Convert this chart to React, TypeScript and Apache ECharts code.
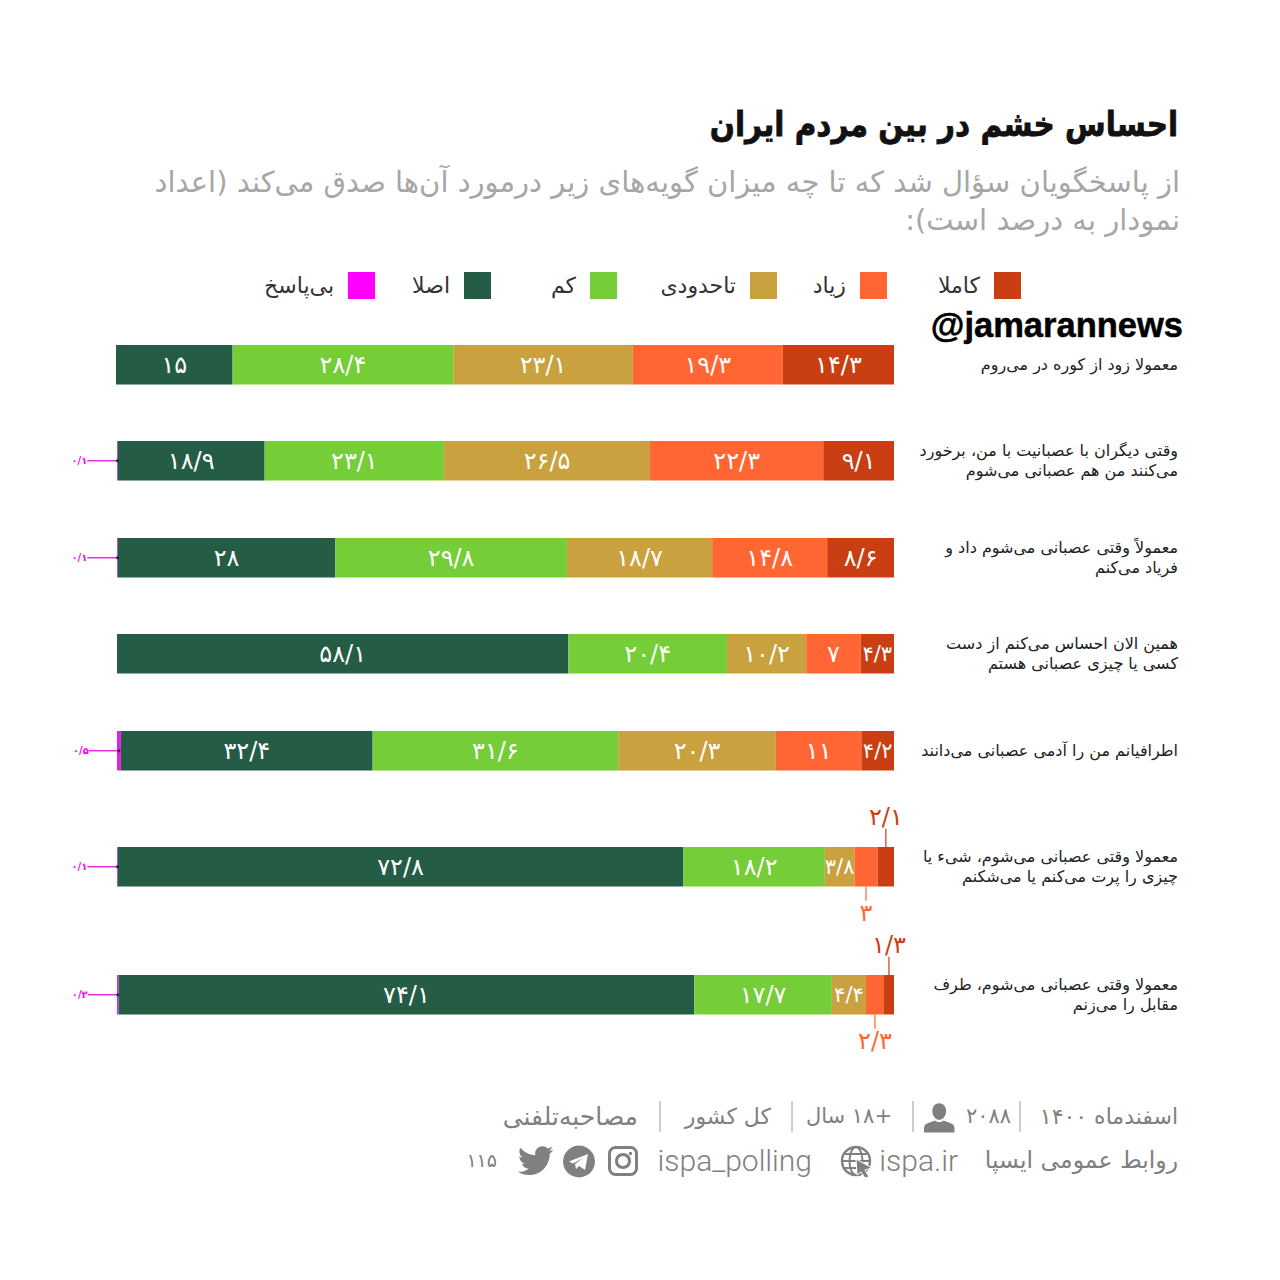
import React, { useEffect, useRef } from "react";
import * as echarts from "echarts";

const FA = "'DejaVu Sans', sans-serif";
const RLM = "\u200F";
const rtl = (s: string) => s.split("\n").map((l) => RLM + l + RLM).join("\n");

const categories = [
  "معمولا زود از کوره در می‌روم",
  "وقتی دیگران با عصبانیت با من، برخورد\nمی‌کنند من هم عصبانی می‌شوم",
  "معمولاً وقتی عصبانی می‌شوم داد و\nفریاد می‌کنم",
  "همین الان احساس می‌کنم از دست\nکسی یا چیزی عصبانی هستم",
  "اطرافیانم من را آدمی عصبانی می‌دانند",
  "معمولا وقتی عصبانی می‌شوم، شیء یا\nچیزی را پرت می‌کنم یا می‌شکنم",
  "معمولا وقتی عصبانی می‌شوم، طرف\nمقابل را می‌زنم",
];
const noAnswer = [0, 0.1, 0.1, 0, 0.5, 0.1, 0.2];
const notAtAll = [15, 18.9, 28, 58.1, 32.4, 72.8, 74.1];
const low = [28.4, 23.1, 29.8, 20.4, 31.6, 18.2, 17.7];
const moderate = [23.1, 26.5, 18.7, 10.2, 20.3, 3.8, 4.4];
const high = [19.3, 22.3, 14.8, 7, 11, 3, 2.3];
const full = [14.3, 9.1, 8.6, 4.3, 4.2, 2.1, 1.3];

const seriesDefs = [
  { name: "بی‌پاسخ", values: noAnswer, color: "#e51fe5", legend: "#ff00ff", swatchRight: 905 },
  { name: "اصلا", values: notAtAll, color: "#255c45", legend: "#255c45", swatchRight: 789 },
  { name: "کم", values: low, color: "#75cd37", legend: "#75cd37", swatchRight: 663 },
  { name: "تاحدودی", values: moderate, color: "#c9a13e", legend: "#c9a13e", swatchRight: 503 },
  { name: "زیاد", values: high, color: "#ff6633", legend: "#ff6633", swatchRight: 393 },
  { name: "کاملا", values: full, color: "#c93f13", legend: "#c93f13", swatchRight: 259 },
];

const rowTops = [345, 441, 538, 634, 731, 847, 975];
const rowLefts = [116, 117, 117, 117, 117, 117, 117];
const BAR_H = 39.5;
const BAR_RIGHT = 894;

const toFa = (v: number) =>
  String(v).replace(/\d/g, (d) => "۰۱۲۳۴۵۶۷۸۹"[+d]).replace(".", "/");

// leader-line labels: series name -> row index -> vertical offset
const calloutDy: Record<string, Record<number, number>> = {
  "زیاد": { 5: 46, 6: 46 },
  "کاملا": { 5: -50, 6: -50 },
};

const person = "M12 1c3.2 0 5.4 2.6 5.4 6s-2.2 7-5.4 7-5.4-3.6-5.4-7 2.2-6 5.4-6zM0 24v-3.5c0-2 1-3 3-3.8l5.6-2.2c2 1.6 4.800 1.600 6.800 0l5.600 2.200c2 .8 3 1.800 3 3.800V24z";
const twitter = "M24 4.6c-.9.4-1.850.65-2.850.78 1.030-.62 1.800-1.600 2.150-2.750-.95.55-2 .95-3.130 1.180-.9-.96-2.180-1.560-3.600-1.560-3.170 0-5.500 2.960-4.780 6.040C7.700 8.100 4.070 6.130 1.640 3.160.35 5.370 1 8.260 3.160 9.730c-.8-.03-1.550-.25-2.230-.62-.05 2.280 1.580 4.410 3.950 4.890-.7.190-1.460.230-2.210.08.62 1.950 2.440 3.370 4.600 3.420C5.200 19.110 2.600 19.830 0 19.520c2.180 1.400 4.770 2.210 7.560 2.210 9.050 0 14.170-7.640 13.980-14.500C22.500 6.550 23.330 5.640 24 4.600z";
echarts.graphic.registerShape("personIcon", echarts.graphic.extendPath(person, {}));
echarts.graphic.registerShape("twitterIcon", echarts.graphic.extendPath(twitter, {}));

const GREY = "#808080";

const footerText = (text: string, right: number, y: number, size = 24, font = FA) => ({
  type: "text",
  x: right,
  y,
  style: { text: rtl(text), fill: GREY, font: `${size}px ${font}`, textAlign: "right", textVerticalAlign: "middle" },
});
const footerLtr = (text: string, right: number, y: number, size: number, letter = "Roboto") => ({
  type: "text",
  x: right,
  y,
  style: { text, fill: GREY, font: `300 ${size}px ${letter}`, textAlign: "right", textVerticalAlign: "middle" },
});
const sep = (x: number) => ({
  type: "line",
  shape: { x1: x, y1: 1101, x2: x, y2: 1132 },
  style: { stroke: "#9a9a9a", lineWidth: 1 },
});

export default function App() {
  const ref = useRef<HTMLDivElement>(null);
  useEffect(() => {
    const chart = echarts.init(ref.current!, undefined, { renderer: "svg" });
    const series: any[] = [];
    categories.forEach((cat, r) => {
      seriesDefs.forEach((s) => {
        const v = s.values[r];
        if (!v) return;
        const isPink = s.values === noAnswer;
        const dy = calloutDy[s.name]?.[r];
        const hasCallout = isPink || dy !== undefined;
        series.push({
          type: "bar",
          name: s.name,
          stack: "row" + r,
          xAxisIndex: r,
          yAxisIndex: r,
          barWidth: "100%",
          itemStyle: { color: s.color },
          data: [v],
          label: {
            show: true,
            position: "inside",
            formatter: () => toFa(v),
            fontFamily: FA,
            fontSize: isPink ? 10 : v < 5 && !hasCallout ? 21 : 24,
            fontWeight: isPink ? "bold" : "normal",
            color: isPink ? "#ff00ff" : hasCallout ? s.color : "#ffffff",
          },
          ...(hasCallout
            ? {
                labelLayout: isPink ? { dx: -38 } : { dy },
                labelLine: { show: true, lineStyle: { color: s.color, width: isPink ? 1.4 : 1.2 } },
              }
            : {}),
        });
        if (isPink) {
          series.push({
            type: "scatter",
            name: "نقطه",
            xAxisIndex: r,
            yAxisIndex: r,
            symbolSize: 3,
            z: 5,
            itemStyle: { color: "#111" },
            data: [[v / 2, cat]],
          });
        }
      });
    });
    chart.setOption({
      animation: false,
      backgroundColor: "#ffffff",
      title: [
        { text: rtl("از پاسخگویان سؤال شد که تا چه میزان گویه‌های زیر درمورد آن‌ها صدق می‌کند (اعداد"), right: 100, top: 167, padding: 0, textStyle: { fontFamily: FA, fontWeight: "normal", fontSize: 29, color: "#a6a6a6" } },
        { text: rtl("نمودار به درصد است):"), right: 100, top: 205, padding: 0, textStyle: { fontFamily: FA, fontWeight: "normal", fontSize: 29, color: "#a6a6a6" } },
      ],
      legend: seriesDefs.map((s) => ({
        data: [{ name: s.name, itemStyle: { color: s.legend } }],
        right: s.swatchRight,
        top: 272,
        padding: 0,
        align: "right",
        icon: "rect",
        itemWidth: 27,
        itemHeight: 27,
        selectedMode: false,
        textStyle: { fontFamily: FA, fontSize: 22, color: "#333", padding: [0, 9, 0, 0] },
      })),
      grid: categories.map((_, r) => ({
        left: rowLefts[r],
        width: BAR_RIGHT - rowLefts[r],
        top: rowTops[r],
        height: BAR_H,
      })),
      xAxis: categories.map((_, r) => ({
        type: "value",
        gridIndex: r,
        show: false,
        min: 0,
        max: seriesDefs.reduce((a, s) => a + s.values[r], 0),
      })),
      yAxis: categories.map((cat, r) => ({
        type: "category",
        gridIndex: r,
        position: "right",
        data: [cat],
        axisLine: { show: false },
        axisTick: { show: false },
        axisLabel: {
          interval: 0,
          align: "right",
          margin: 284,
          formatter: (t: string) => rtl(t),
          fontFamily: FA,
          fontSize: 16,
          lineHeight: 20,
          color: "#222",
          padding: cat.includes("\n") ? [0, 0, 4, 0] : 0,
        },
      })),
      series,
      graphic: [
        {
          type: "text",
          x: 1178,
          y: 124,
          scaleX: 0.867,
          style: { text: "احساس خشم در بین مردم ایران", fill: "#111", stroke: "#111", lineWidth: 0.8, font: `bold 34px ${FA}`, textAlign: "right", textVerticalAlign: "middle" },
        },
        {
          type: "text",
          x: 1183,
          y: 325,
          style: { text: "@jamarannews", fill: "#000", stroke: "#000", lineWidth: 0.5, font: "bold 34.500px 'Liberation Sans'", textAlign: "right", textVerticalAlign: "middle" },
        },
        footerText("اسفندماه ۱۴۰۰", 1178, 1116, 22),
        sep(1020),
        footerText("۲۰۸۸", 1011, 1116, 21),
        { type: "personIcon", x: 924, y: 1102, scaleX: 1.27, scaleY: 1.27, style: { fill: GREY } },
        sep(913),
        footerText("+۱۸ سال", 892, 1116, 21),
        sep(792),
        footerText("کل کشور", 771, 1116, 22),
        sep(660),
        footerText("مصاحبه‌تلفنی", 638, 1116, 25),
        footerText("روابط عمومی ایسپا", 1178, 1160, 23.500),
        footerLtr("ispa.ir", 958, 1160, 30),
        {
          type: "group",
          x: 841,
          y: 1146,
          children: [
            { type: "circle", shape: { cx: 15, cy: 15, r: 14 }, style: { fill: "none", stroke: GREY, lineWidth: 2.4 } },
            { type: "ellipse", shape: { cx: 15, cy: 15, rx: 6.5, ry: 14 }, style: { fill: "none", stroke: GREY, lineWidth: 2 } },
            { type: "line", shape: { x1: 1, y1: 15, x2: 29, y2: 15 }, style: { stroke: GREY, lineWidth: 2 } },
            { type: "line", shape: { x1: 4, y1: 8, x2: 26, y2: 8 }, style: { stroke: GREY, lineWidth: 2 } },
            { type: "line", shape: { x1: 4, y1: 22, x2: 26, y2: 22 }, style: { stroke: GREY, lineWidth: 2 } },
            { type: "polygon", shape: { points: [[15, 13], [31, 22], [24, 24], [28, 31], [24, 32], [20, 26], [16, 29]] }, style: { fill: GREY, stroke: "#fff", lineWidth: 1 } },
          ],
        },
        footerLtr("ispa_polling", 812, 1160, 30),
        {
          type: "group",
          x: 608,
          y: 1146,
          children: [
            { type: "rect", shape: { x: 1.500, y: 1.500, width: 27, height: 27, r: 6 }, style: { fill: "none", stroke: GREY, lineWidth: 3 } },
            { type: "circle", shape: { cx: 15, cy: 15, r: 6.5 }, style: { fill: "none", stroke: GREY, lineWidth: 3 } },
            { type: "circle", shape: { cx: 22.5, cy: 7.5, r: 1.7 }, style: { fill: GREY } },
          ],
        },
        {
          type: "group",
          x: 563,
          y: 1146,
          children: [
            { type: "circle", shape: { cx: 16, cy: 15.5, r: 16 }, style: { fill: GREY } },
            { type: "polygon", shape: { points: [[6, 15.5], [25, 8], [22, 24], [16, 20], [13, 23], [12, 18], [20, 12], [10, 17.5]] }, style: { fill: "#fff" } },
          ],
        },
        { type: "twitterIcon", x: 518, y: 1143, scaleX: 1.47, scaleY: 1.47, style: { fill: GREY } },
        footerText("۱۱۵", 497, 1160, 19),
      ],
    });
    return () => chart.dispose();
  }, []);
  return <div ref={ref} style={{ position: "absolute", left: 0, top: 0, width: 1280, height: 1280 }} />;
}
